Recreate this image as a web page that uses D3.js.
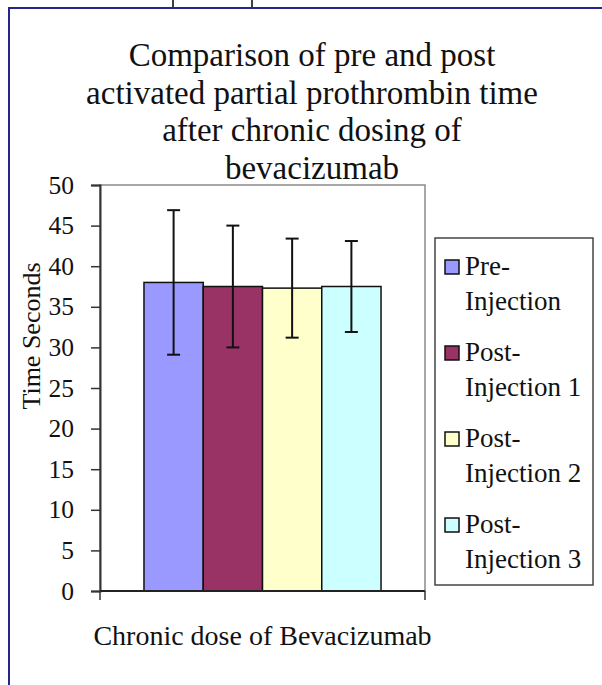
<!DOCTYPE html>
<html>
<head>
<meta charset="utf-8">
<script src="https://cdn.jsdelivr.net/npm/d3@7"></script>
<style>
  body { margin: 0; background: #fff; }
</style>
</head>
<body>
<div id="chart"></div>
<script>
const titleLines = ["Comparison of pre and post", "activated partial prothrombin time", "after chronic dosing of", "bevacizumab"];
const category = ["Chronic dose of Bevacizumab"];
const seriesNames = ["Pre-Injection", "Post-Injection 1", "Post-Injection 2", "Post-Injection 3"];
const legendLines = [["Pre-", "Injection"], ["Post-", "Injection 1"], ["Post-", "Injection 2"], ["Post-", "Injection 3"]];
const means = [38.0, 37.5, 37.3, 37.5];
const errors = [8.9, 7.5, 6.1, 5.6];
const colors = ["#9999ff", "#993366", "#ffffcc", "#ccffff"];
const yTicks = [0, 5, 10, 15, 20, 25, 30, 35, 40, 45, 50];

const width = 602, height = 685;
const plot = {left: 100, right: 425, top: 185, bottom: 591};
const serif = "Liberation Serif";

const svg = d3.select("#chart").append("svg")
  .attr("width", width)
  .attr("height", height)
  .style("font-family", serif);

// page frame bits around the chart
const navy = "#25258c";
svg.append("line").attr("x1", 9).attr("x2", 9).attr("y1", 7).attr("y2", height)
  .attr("stroke", navy).attr("stroke-width", 2);
svg.append("line").attr("x1", 8).attr("x2", width).attr("y1", 8).attr("y2", 8)
  .attr("stroke", navy).attr("stroke-width", 2);
[173, 252].forEach(function(x) {
  svg.append("line").attr("x1", x).attr("x2", x).attr("y1", 0).attr("y2", 7)
    .attr("stroke", "#000").attr("stroke-width", 1.5);
});

// title
svg.append("g").selectAll("text")
  .data(titleLines)
  .enter().append("text")
  .attr("x", 312)
  .attr("y", function(d, i) { return 66 + i * 37.5; })
  .attr("text-anchor", "middle")
  .style("font-family", serif)
  .style("font-size", "33px")
  .attr("fill", "#111")
  .text(function(d) { return d; });

const y = d3.scaleLinear().domain([0, 50]).range([plot.bottom, plot.top]);
const x0 = d3.scaleBand().domain(category).range([plot.left, plot.right]);
const x1 = d3.scaleBand().domain(seriesNames).range([0, x0.bandwidth()])
  .paddingInner(0).paddingOuter(0.742);

// plot area frame
svg.append("rect")
  .attr("x", plot.left).attr("y", plot.top)
  .attr("width", plot.right - plot.left).attr("height", plot.bottom - plot.top)
  .attr("fill", "none").attr("stroke", "#8a8a8a").attr("stroke-width", 1.5);

// bars
const g = svg.append("g").attr("transform", "translate(" + x0(category[0]) + ",0)");
g.selectAll("rect")
  .data(means)
  .enter().append("rect")
  .attr("x", function(d, i) { return x1(seriesNames[i]); })
  .attr("y", function(d) { return y(d); })
  .attr("width", x1.bandwidth())
  .attr("height", function(d) { return y(0) - y(d); })
  .attr("fill", function(d, i) { return colors[i]; })
  .attr("stroke", "#111")
  .attr("stroke-width", 1.5);

// error bars
const eb = g.selectAll("g.err")
  .data(means)
  .enter().append("g").attr("class", "err")
  .attr("transform", function(d, i) { return "translate(" + (x1(seriesNames[i]) + x1.bandwidth() / 2) + ",0)"; })
  .attr("stroke", "#111").attr("stroke-width", 2);
eb.append("line")
  .attr("y1", function(d, i) { return y(d + errors[i]); })
  .attr("y2", function(d, i) { return y(d - errors[i]); });
eb.append("line").attr("x1", -6.5).attr("x2", 6.5)
  .attr("y1", function(d, i) { return y(d + errors[i]); })
  .attr("y2", function(d, i) { return y(d + errors[i]); });
eb.append("line").attr("x1", -6.5).attr("x2", 6.5)
  .attr("y1", function(d, i) { return y(d - errors[i]); })
  .attr("y2", function(d, i) { return y(d - errors[i]); });

// y axis
const yAxis = svg.append("g")
  .attr("transform", "translate(" + plot.left + ",0)")
  .call(d3.axisLeft(y).tickValues(yTicks).tickSize(9).tickPadding(17));
yAxis.select(".domain").attr("stroke", "#333").attr("stroke-width", 2);
yAxis.selectAll(".tick line").attr("stroke", "#333").attr("stroke-width", 1.5);
yAxis.selectAll(".tick text")
  .style("font-family", serif)
  .style("font-size", "25.5px")
  .attr("fill", "#111");

// x axis
const xAxis = svg.append("g")
  .attr("transform", "translate(0," + plot.bottom + ")");
xAxis.append("line")
  .attr("x1", plot.left).attr("x2", plot.right)
  .attr("stroke", "#222").attr("stroke-width", 2);
xAxis.selectAll("line.tk")
  .data(x0.range())
  .enter().append("line").attr("class", "tk")
  .attr("x1", function(d) { return d; }).attr("x2", function(d) { return d; })
  .attr("y1", 0).attr("y2", 9)
  .attr("stroke", "#333").attr("stroke-width", 1.5);

svg.append("text")
  .attr("x", x0(category[0]) + x0.bandwidth() / 2)
  .attr("y", 645)
  .attr("text-anchor", "middle")
  .style("font-family", serif)
  .style("font-size", "28px")
  .attr("fill", "#111")
  .text(category[0]);

svg.append("text")
  .attr("transform", "translate(40,336) rotate(-90)")
  .attr("text-anchor", "middle")
  .style("font-family", serif)
  .style("font-size", "26px")
  .attr("fill", "#111")
  .text("Time Seconds");

// legend
const legend = svg.append("g");
legend.append("rect")
  .attr("x", 435).attr("y", 238).attr("width", 158).attr("height", 347)
  .attr("fill", "#fff").attr("stroke", "#444").attr("stroke-width", 1.5);
const items = legend.selectAll("g.item")
  .data(seriesNames)
  .enter().append("g").attr("class", "item")
  .attr("transform", function(d, i) { return "translate(0," + (275 + i * 86) + ")"; });
items.append("rect")
  .attr("x", 445).attr("y", -15).attr("width", 14).attr("height", 14)
  .attr("fill", function(d, i) { return colors[i]; })
  .attr("stroke", "#111").attr("stroke-width", 1.5);
items.each(function(d, i) {
  d3.select(this).selectAll("text")
    .data(legendLines[i])
    .enter().append("text")
    .attr("x", 465)
    .attr("y", function(t, j) { return j * 34.5; })
    .style("font-family", serif)
    .style("font-size", "27px")
    .attr("fill", "#111")
    .text(function(t) { return t; });
});
</script>
</body>
</html>
